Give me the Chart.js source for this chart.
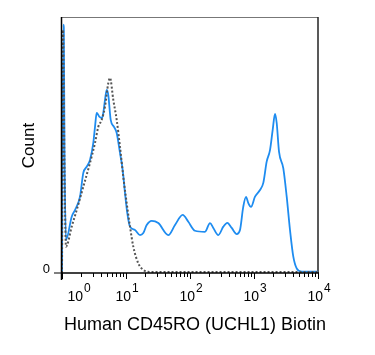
<!DOCTYPE html>
<html><head><meta charset="utf-8">
<script src="https://cdn.jsdelivr.net/npm/chart.js@4"></script>
<style>html,body{margin:0;padding:0;background:#fff}#wrap{width:375px;height:355px}</style>
</head><body><div id="wrap"><canvas id="c" width="375" height="355"></canvas></div>
<script>
const xTitle = "Human CD45RO (UCHL1) Biotin";
const yTitle = "Count";
const decadeTicks = [1, 10, 100, 1000, 10000];
const decadeExponents = ["0", "1", "2", "3", "4"];
const yTickValues = [0];
const yTickLabels = ["0"];

// CD45RO stained sample (blue)
const sampleX = [1.0, 1.048, 1.067, 1.094, 1.155, 1.418, 1.596, 1.911, 2.152, 2.431, 2.738, 3.084, 3.279, 3.485, 3.827, 4.172, 4.418, 4.697, 4.993, 5.289, 5.767, 6.494, 7.156, 8.058, 8.88, 9.64, 10.48, 11.55, 13.82, 16.55, 18.64, 21.06, 25.21, 31.97, 45.81, 58.3, 76.9, 94.1, 119.7, 171.5, 205.4, 231.3, 276.8, 331.4, 382.6, 448.5, 537, 604, 680, 750, 815, 897, 1037, 1241, 1397, 1578, 1778, 1959, 2128, 2263, 2459, 2872, 3243, 3652, 4113, 4645, 5560, 9545, 10000];
const sampleY = [0, 97, 96, 48, 12.9, 22.0, 24.6, 29.8, 39.1, 41.5, 44.1, 50.8, 57.1, 62.5, 61.1, 60.5, 62.5, 67.6, 71.5, 69.5, 59.8, 57.1, 54.7, 46.9, 40.2, 31.3, 23.4, 18.1, 16.8, 14.8, 15.6, 18.75, 20.4, 19.5, 14.8, 18.75, 22.7, 20.0, 16.5, 16.1, 19.5, 17.6, 14.8, 18.1, 19.6, 17.6, 15.2, 16.8, 25.9, 29.7, 27.3, 25.8, 29.8, 32.4, 35.2, 43.5, 48.0, 55.9, 62.1, 58.6, 47.4, 40.9, 29.8, 16.8, 6.4, 1.8, 0.5, 0.5, 0.5];

// Isotype control (gray dotted)
const isotypeX = [1.0, 1.04, 1.06, 1.09, 1.155, 1.418, 1.697, 2.152, 2.738, 3.279, 3.69, 4.172, 4.697, 5.289, 5.623, 6.334, 7.156, 8.058, 9.074, 10.25, 11.55, 13.0, 15.56, 18.64, 23.71, 100, 1000, 10000];
const isotypeY = [0, 95, 80, 45, 10.3, 18.1, 24.6, 33.7, 43.0, 50.8, 57.1, 59.8, 65.0, 74.2, 76.2, 67.6, 59.8, 49.3, 37.6, 27.3, 18.1, 10.3, 3.8, 1.2, 0.4, 0.4, 0.4, 0.4];

const toPoints = (xs, ys) => xs.map((x, i) => ({ x: x, y: ys[i] }));

const FONT = '"Liberation Sans", Arial, Helvetica, sans-serif';

const axesPlugin = {
  id: 'flowAxes',
  beforeDatasetsDraw(chart) {
    const ctx = chart.ctx, a = chart.chartArea;
    ctx.save();
    // frame top & right
    ctx.strokeStyle = '#777';
    ctx.lineWidth = 1;
    ctx.beginPath();
    ctx.moveTo(a.left, a.top + 0.5); ctx.lineTo(a.right, a.top + 0.5);
    ctx.stroke();
    ctx.strokeStyle = '#222';
    ctx.lineWidth = 1.5;
    ctx.beginPath();
    ctx.moveTo(a.right, a.top); ctx.lineTo(a.right, a.bottom);
    ctx.stroke();
    ctx.restore();
  },
  afterDraw(chart) {
    const ctx = chart.ctx, a = chart.chartArea;
    const xs = chart.scales.x, ys = chart.scales.y;
    ctx.save();
    ctx.strokeStyle = '#000';
    // left axis
    ctx.lineWidth = 1.5;
    ctx.beginPath();
    ctx.moveTo(a.left - 0.5, a.top); ctx.lineTo(a.left - 0.5, a.bottom + 7);
    ctx.stroke();
    // bottom axis
    ctx.beginPath();
    ctx.moveTo(a.left - 1, a.bottom); ctx.lineTo(a.right + 1, a.bottom);
    ctx.stroke();
    // x ticks
    ctx.lineWidth = 1;
    for (let i = 0; i < decadeTicks.length; i++) {
      const px = Math.round(xs.getPixelForValue(decadeTicks[i])) + 0.5;
      ctx.beginPath(); ctx.moveTo(px, a.bottom); ctx.lineTo(px, a.bottom + 6); ctx.stroke();
      if (i < decadeTicks.length - 1) {
        for (let k = 2; k <= 9; k++) {
          const mx = Math.round(xs.getPixelForValue(decadeTicks[i] * k)) + 0.5;
          ctx.beginPath(); ctx.moveTo(mx, a.bottom); ctx.lineTo(mx, a.bottom + 4); ctx.stroke();
        }
      }
    }
    // y ticks
    ctx.fillStyle = '#000';
    ctx.textAlign = 'right';
    ctx.textBaseline = 'alphabetic';
    ctx.font = '13px ' + FONT;
    for (let i = 0; i < yTickValues.length; i++) {
      const py = ys.getPixelForValue(yTickValues[i]);
      ctx.beginPath(); ctx.moveTo(a.left - 8, py); ctx.lineTo(a.left, py); ctx.stroke();
      ctx.fillText(yTickLabels[i], a.left - 12, py);
    }
    // x tick labels with superscripts
    ctx.textAlign = 'left';
    const baseFont = '14px ' + FONT, supFont = '12px ' + FONT;
    for (let i = 0; i < decadeTicks.length; i++) {
      const px = xs.getPixelForValue(decadeTicks[i]);
      ctx.font = baseFont;
      const wb = ctx.measureText('10').width;
      ctx.font = supFont;
      const we = ctx.measureText(decadeExponents[i]).width;
      const shift = i === 0 ? 17 : 1;
      const left = px + shift - (wb + we + 1) / 2;
      ctx.font = baseFont;
      ctx.fillText('10', left, a.bottom + 28);
      ctx.font = supFont;
      ctx.fillText(decadeExponents[i], left + wb + 1, a.bottom + 18.5);
    }
    // titles
    ctx.font = '18px ' + FONT;
    ctx.textAlign = 'center';
    ctx.fillText(xTitle, 195, a.bottom + 57);
    ctx.save();
    ctx.translate(34, 145.5);
    ctx.rotate(-Math.PI / 2);
    ctx.font = '17px ' + FONT;
    ctx.fillText(yTitle, 0, 0);
    ctx.restore();
    ctx.restore();
  }
};

new Chart(document.getElementById('c'), {
  type: 'line',
  data: {
    datasets: [
      {
        label: 'Isotype',
        data: toPoints(isotypeX, isotypeY),
        borderColor: '#555555',
        borderWidth: 2,
        borderDash: [2, 2],
        pointRadius: 0,
        cubicInterpolationMode: 'monotone',
        fill: false
      },
      {
        label: 'CD45RO',
        data: toPoints(sampleX, sampleY),
        borderColor: '#1e8cf0',
        borderWidth: 1.8,
        pointRadius: 0,
        cubicInterpolationMode: 'monotone',
        fill: false
      }
    ]
  },
  options: {
    responsive: false,
    animation: false,
    devicePixelRatio: 1,
    layout: { padding: { left: 62, right: 57, top: 17, bottom: 82 } },
    scales: {
      x: { type: 'logarithmic', min: 1, max: 10000, display: false },
      y: { type: 'linear', min: 0, max: 100, display: false }
    },
    plugins: { legend: { display: false }, tooltip: { enabled: false } }
  },
  plugins: [axesPlugin]
});
</script>
</body></html>
